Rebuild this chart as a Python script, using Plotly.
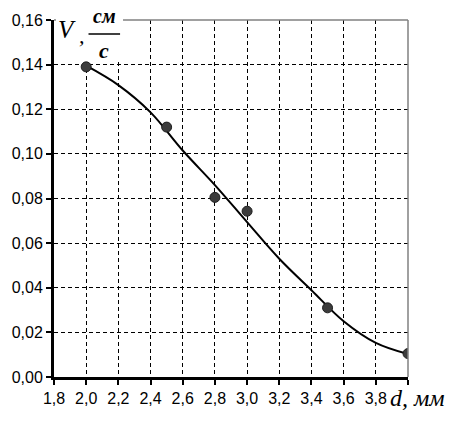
import plotly.graph_objects as go

# measured points
d_points = [2.0, 2.5, 2.8, 3.0, 3.5, 4.0]
v_points = [0.139, 0.112, 0.0805, 0.0743, 0.031, 0.0105]

# smooth trend curve
d_curve = [2.0, 2.2, 2.4, 2.6, 2.8, 3.0, 3.2, 3.4, 3.6, 3.8, 4.0]
v_curve = [0.1395, 0.1308, 0.1186, 0.1015, 0.0860, 0.0694, 0.0530, 0.0389, 0.0250, 0.0153, 0.0103]

x_ticks = [1.8, 2.0, 2.2, 2.4, 2.6, 2.8, 3.0, 3.2, 3.4, 3.6, 3.8, 4.0]
x_ticktext = ["1,8", "2,0", "2,2", "2,4", "2,6", "2,8", "3,0", "3,2", "3,4", "3,6", "3,8", ""]
y_ticks = [0.00, 0.02, 0.04, 0.06, 0.08, 0.10, 0.12, 0.14, 0.16]
y_ticktext = ["0,00", "0,02", "0,04", "0,06", "0,08", "0,10", "0,12", "0,14", "0,16"]

W, H = 457, 421
L, R, T, B = 49, 49, 19, 44
PW, PH = W - L - R, H - T - B


def px(x):
    return (x - L) / PW


def py(y):
    return (H - B - y) / PH


fig = go.Figure()
fig.add_trace(go.Scatter(x=d_curve, y=v_curve, mode="lines", line=dict(color="black", width=2, shape="spline", smoothing=1.0), hoverinfo="skip", showlegend=False))
fig.add_trace(go.Scatter(x=d_points, y=v_points, mode="markers", marker=dict(size=10, color="#3c3c3c", line=dict(color="#1e1e1e", width=1)), showlegend=False))

tickfont = dict(family="Liberation Sans, Arial, sans-serif", size=16, color="black")
fig.update_xaxes(range=[1.8, 4.0], tickvals=x_ticks, ticktext=x_ticktext, showgrid=True, gridcolor="black", gridwidth=1, griddash="4px,3px",
                 showline=True, linecolor="black", linewidth=3, ticks="outside", ticklen=5, tickwidth=2, tickcolor="black",
                 tickfont=tickfont, zeroline=False, fixedrange=True)
fig.update_yaxes(range=[0, 0.16], tickvals=y_ticks, ticktext=y_ticktext, showgrid=True, gridcolor="black", gridwidth=1, griddash="4px,3px",
                 showline=True, linecolor="black", linewidth=3, ticks="outside", ticklen=5, tickwidth=2, tickcolor="black",
                 tickfont=tickfont, zeroline=False, fixedrange=True)

shapes = [
    # gray frame top and right
    dict(type="line", xref="paper", yref="paper", x0=0, x1=1, y0=1, y1=1, line=dict(color="#808080", width=1.5), layer="above"),
    dict(type="line", xref="paper", yref="paper", x0=1, x1=1, y0=0, y1=1, line=dict(color="#808080", width=1.5), layer="above"),
    # white mask behind the axis title
    dict(type="rect", xref="paper", yref="paper", x0=px(51), x1=px(119), y0=py(59), y1=py(18), fillcolor="white", line=dict(width=0), layer="above"),
    # fraction bar
    dict(type="line", xref="paper", yref="paper", x0=px(84), x1=px(116), y0=py(33), y1=py(33), line=dict(color="black", width=1.5), layer="above"),
]

serif = "Liberation Serif, Times New Roman, serif"
annotations = [
    dict(text="<i>V</i>", x=px(62), y=py(29), xref="paper", yref="paper", showarrow=False, font=dict(family=serif, size=25, color="black"), xanchor="center", yanchor="middle"),
    dict(text="<i>,</i>", x=px(77), y=py(35), xref="paper", yref="paper", showarrow=False, font=dict(family=serif, size=22, color="black"), xanchor="center", yanchor="middle"),
    dict(text="<b><i>см</i></b>", x=px(100), y=py(15), xref="paper", yref="paper", showarrow=False, font=dict(family=serif, size=20, color="black"), xanchor="center", yanchor="middle"),
    dict(text="<b><i>с</i></b>", x=px(100), y=py(50), xref="paper", yref="paper", showarrow=False, font=dict(family=serif, size=22, color="black"), xanchor="center", yanchor="middle"),
    dict(text="<i>d</i><i>, мм</i>", x=px(388), y=py(398), xref="paper", yref="paper", showarrow=False, font=dict(family=serif, size=24, color="black"), xanchor="left", yanchor="middle"),
]

fig.update_layout(width=W, height=H, margin=dict(l=L, r=R, t=T, b=B, pad=0), plot_bgcolor="white", paper_bgcolor="white",
                  shapes=shapes, annotations=annotations, showlegend=False)

fig.write_html("out.html", config={"displayModeBar": False},
               post_script="document.body.style.margin='0';document.body.style.padding='0';")
